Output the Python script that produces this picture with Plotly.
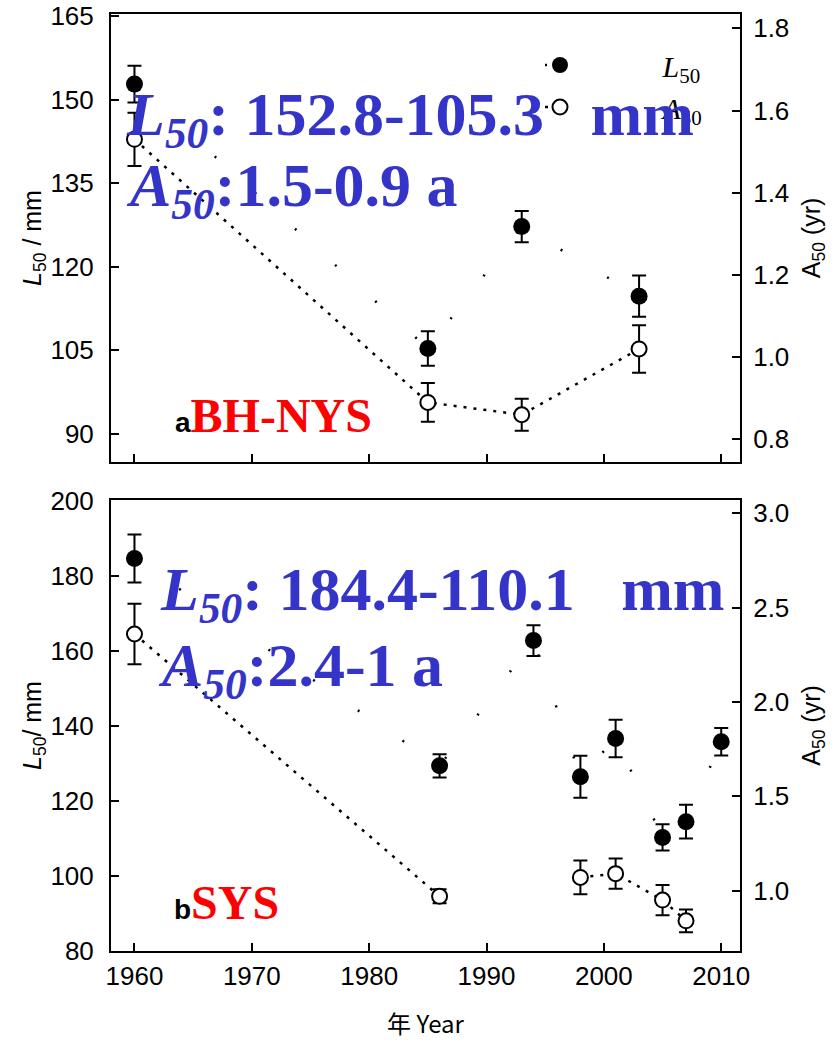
import plotly.graph_objects as go

# ---------------- Data ----------------
# Panel a: BH-NYS
years_a = [1960, 1985, 1993, 2003]
L50_a = [152.8, 105.3, 127.2, 114.7]
L50_a_err = [3.3, 3.1, 2.8, 3.7]
A50_a = [1.53, 0.89, 0.86, 1.02]
A50_a_err = [0.065, 0.047, 0.039, 0.058]

# Panel b: SYS
years_b_L = [1960, 1986, 1994, 1998, 2001, 2005, 2007, 2010]
L50_b = [184.6, 129.3, 162.7, 126.4, 136.6, 110.2, 114.4, 135.7]
L50_b_err = [6.4, 3.1, 4.1, 5.6, 5.0, 3.5, 4.5, 3.65]
years_b_A = [1960, 1986, 1998, 2001, 2005, 2007]
A50_b = [2.36, 0.97, 1.07, 1.09, 0.95, 0.84]
A50_b_err = [0.16, 0.037, 0.089, 0.08, 0.08, 0.06]
A50_b_gap_after = [1986]  # dotted line is interrupted after this year

x_ticks = [1960, 1970, 1980, 1990, 2000, 2010]
L_ticks_a = [90, 105, 120, 135, 150, 165]
A_ticks_a = [0.8, 1.0, 1.2, 1.4, 1.6, 1.8]
L_ticks_b = [80, 100, 120, 140, 160, 180, 200]
A_ticks_b = [1.0, 1.5, 2.0, 2.5, 3.0]

label_a = "BH-NYS"
label_b = "SYS"
text_a1 = ":&nbsp;152.8-105.3&nbsp;&nbsp;&nbsp;mm"
text_a2 = ":1.5-0.9 a"
text_b1 = ":&nbsp;184.4-110.1&nbsp;&nbsp;&nbsp;mm"
text_b2 = ":2.4-1 a"

# ---------------- Styles ----------------
BLUE = "#3434c8"
SERIF = "Liberation Serif, Times New Roman, serif"
SANS = "Liberation Sans, Arial, sans-serif"
L_DASH = "2px,52px"
A_DASH = "3px,7px"

# line with gaps for panel b A50
lx, ly = [], []
for xv, yv in zip(years_b_A, A50_b):
    lx.append(xv)
    ly.append(yv)
    if xv in A50_b_gap_after:
        lx.append(None)
        ly.append(None)

fig = go.Figure()
PAD = "&nbsp;" * 11

def filled(x, y, err, xa, ya, show):
    return go.Scatter(
        x=x, y=y, xaxis=xa, yaxis=ya, mode="lines+markers",
        line=dict(color="black", width=2.5, dash=L_DASH),
        marker=dict(symbol="circle", size=17, color="black"),
        error_y=dict(type="data", array=err, color="black", thickness=2, width=7),
        name=PAD + "<i>L</i><sub>50</sub>",
        legendgroup="L", showlegend=show,
    )

def opened(x, y, err, xa, ya):
    return go.Scatter(
        x=x, y=y, xaxis=xa, yaxis=ya, mode="markers",
        marker=dict(symbol="circle", size=15, color="white",
                    line=dict(color="black", width=2)),
        error_y=dict(type="data", array=err, color="black", thickness=2, width=7),
        legendgroup="A", showlegend=False,
    )

# panel a
fig.add_trace(filled(years_a, L50_a, L50_a_err, "x", "y", True))
fig.add_trace(go.Scatter(x=years_a, y=A50_a, xaxis="x", yaxis="y2", mode="lines",
                         line=dict(color="black", width=2.5, dash=A_DASH),
                         legendgroup="A", showlegend=False, hoverinfo="skip"))
fig.add_trace(opened(years_a, A50_a, A50_a_err, "x", "y2"))
# legend entry for A50 with dotted line
fig.add_trace(go.Scatter(x=[None], y=[None], xaxis="x", yaxis="y2", mode="lines+markers",
                         line=dict(color="black", width=2.5, dash=A_DASH),
                         marker=dict(symbol="circle", size=15, color="white",
                                     line=dict(color="black", width=2)),
                         name=PAD + "<i>A</i><sub>50</sub>",
                         legendgroup="A", showlegend=True))

# panel b
fig.add_trace(filled(years_b_L, L50_b, L50_b_err, "x2", "y3", False))
fig.add_trace(go.Scatter(x=lx, y=ly, xaxis="x2", yaxis="y4", mode="lines",
                         line=dict(color="black", width=2.5, dash=A_DASH),
                         connectgaps=False, showlegend=False, hoverinfo="skip"))
fig.add_trace(opened(years_b_A, A50_b, A50_b_err, "x2", "y4"))

# ---------------- Axes ----------------
W, H = 837, 1040
ML, MR, MT, MB = 111, 97, 14, 89
PW, PH = W - ML - MR, H - MT - MB

def py(p):  # pixel y -> paper
    return (H - MB - p) / PH

def px(p):  # pixel x -> paper
    return (p - ML) / PW

top_dom = [py(462), 1.0]
bot_dom = [0.0, py(500)]

common = dict(showline=True, linewidth=2, linecolor="black", showgrid=False,
              zeroline=False, ticks="inside", ticklen=8, tickwidth=2, tickcolor="black",
              automargin=False,
              tickfont=dict(family=SANS, size=26, color="black"))
TF = dict(family=SANS, size=25, color="black")

fig.update_layout(
    xaxis=dict(domain=[0, 1], anchor="y", range=[1958, 2011.6], tickvals=x_ticks,
               showticklabels=False, mirror=True, **common),
    yaxis=dict(domain=top_dom, anchor="x", range=[84.9, 165.4], tickvals=L_ticks_a,
               ticklabelstandoff=10,
               title=dict(text="<i>L</i><sub>50</sub> / mm", standoff=2, font=TF),
               **common),
    yaxis2=dict(overlaying="y", side="right", anchor="x", range=[0.745, 1.835],
                tickvals=A_ticks_a, tickformat=".1f", ticklabelstandoff=6,
                title=dict(text="A<sub>50</sub> (yr)", standoff=14, font=TF),
                **common),
    xaxis2=dict(domain=[0, 1], anchor="y3", range=[1958, 2011.6], tickvals=x_ticks,
                mirror=True, ticklabelstandoff=1,
                title=dict(text="年 Year", standoff=28,
                           font=dict(family="Noto Sans CJK SC, " + SANS, size=24, color="black")),
                **common),
    yaxis3=dict(domain=bot_dom, anchor="x2", range=[79.9, 200.2], tickvals=L_ticks_b,
                ticklabelstandoff=10,
                title=dict(text="<i>L</i><sub>50</sub>/ mm", standoff=2, font=TF),
                **common),
    yaxis4=dict(overlaying="y3", side="right", anchor="x2", range=[0.68, 3.07],
                tickvals=A_ticks_b, tickformat=".1f", ticklabelstandoff=6,
                title=dict(text="A<sub>50</sub> (yr)", standoff=14, font=TF),
                **common),
)

# ---------------- Annotations ----------------
def big(x, y, sym, txt):
    return dict(xref="paper", yref="paper", x=x, y=y, xanchor="left", yanchor="middle",
                showarrow=False,
                text=f"<i>{sym}</i><sub><i>50</i></sub>{txt}",
                font=dict(family=SERIF, size=62, color=BLUE, weight="bold"))

def tag(x, y, letter, lab):
    return dict(xref="paper", yref="paper", x=x, y=y, xanchor="left", yanchor="middle",
                showarrow=False,
                text=(f"<span style='font-family:Liberation Sans, Arial;font-size:28px;color:black'>{letter}</span>"
                      f"{lab}"),
                font=dict(family=SERIF, size=48, color="#ff0000", weight="bold"))

fig.update_layout(annotations=[
    big(px(124), py(118), "L", text_a1),
    big(px(124), py(190), "A", text_a2),
    big(px(158), py(593), "L", text_b1),
    big(px(156), py(669), "A", text_b2),
    tag(px(173), py(415), "a", label_a),
    tag(px(172), py(902), "b", label_b),
])

fig.update_layout(
    width=W, height=H,
    margin=dict(l=ML, r=MR, t=MT, b=MB, autoexpand=False),
    paper_bgcolor="white", plot_bgcolor="white",
    showlegend=True,
    legend=dict(x=px(540), y=py(39), xanchor="left", yanchor="top",
                bgcolor="rgba(0,0,0,0)", tracegroupgap=0,
                font=dict(family=SERIF, size=30, color="black")),
)

fig.write_html("out.html", config={"displayModeBar": False},
               post_script="document.body.style.margin='0px';")
